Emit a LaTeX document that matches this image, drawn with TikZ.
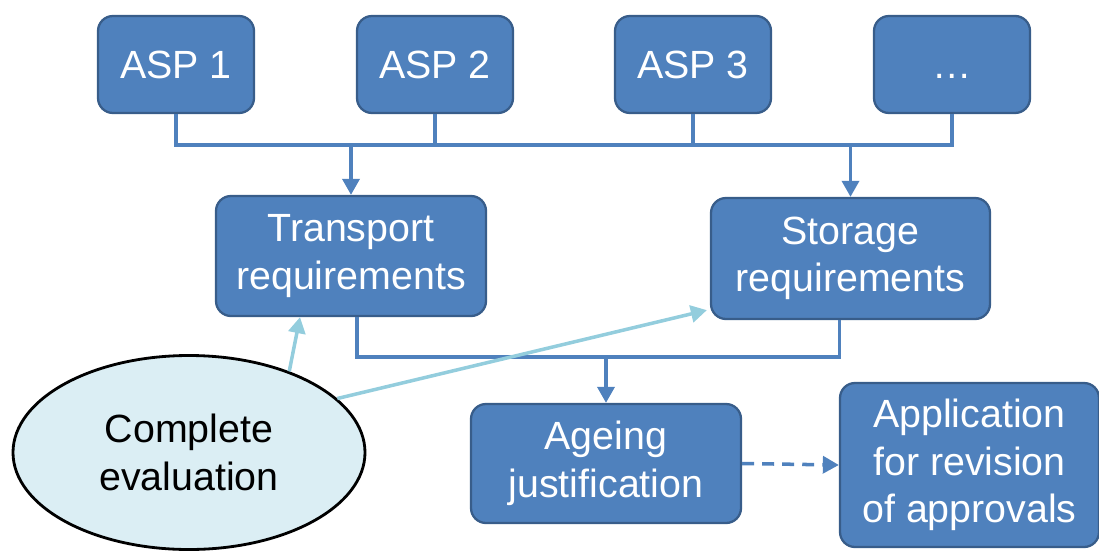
\documentclass[tikz,border=0pt]{standalone}
\usepackage{fontspec}
\setmainfont{Liberation Sans}
\usetikzlibrary{arrows.meta,shapes.geometric}

\definecolor{boxblue}{HTML}{4F81BD}
\definecolor{boxedge}{HTML}{385D8A}
\definecolor{evalfill}{HTML}{DBEEF4}
\definecolor{evalarrow}{HTML}{93CDDD}

\tikzset{
  stepbox/.style={draw=boxedge, line width=1.3pt, fill=boxblue, rounded corners=0.3cm,
                  text=white, align=center, inner sep=0pt,
                  font=\fontsize{22.4}{27}\selectfont},
  flow/.style={draw=boxblue, line width=2pt},
  flowarrow/.style={flow, -{Triangle[width=0.34cm,length=0.32cm]}},
  evalline/.style={draw=evalarrow, line width=2pt, -{Triangle[width=0.34cm,length=0.32cm]}}
}

\begin{document}
\begin{tikzpicture}
\useasboundingbox (0,0) rectangle (21.98,-11);

% source boxes
\node [stepbox, minimum width=3.12cm, minimum height=1.94cm] (asp1) at (3.52,-1.29) {ASP 1};
\node [stepbox, minimum width=3.12cm, minimum height=1.94cm] (asp2) at (8.70,-1.29) {ASP 2};
\node [stepbox, minimum width=3.12cm, minimum height=1.94cm] (asp3) at (13.86,-1.29) {ASP 3};
\node [stepbox, minimum width=3.12cm, minimum height=1.94cm] (asp4) at (19.04,-1.29) {\vphantom{ASP 1}…};

% requirements
\node [stepbox, minimum width=5.4cm, minimum height=2.4cm] (trans) at (7.02,-5.12) {Transport\\requirements};
\node [stepbox, minimum width=5.58cm, minimum height=2.42cm] (stor) at (17.01,-5.17) {Storage\\requirements};

% result boxes
\node [stepbox, minimum width=5.4cm, minimum height=2.38cm] (age) at (12.12,-9.27) {Ageing\\justification};
\node [stepbox, minimum width=5.18cm, minimum height=3.28cm] (appl) at (19.39,-9.3) {Application\\for revision\\of approvals};

% evaluation
\node [ellipse, draw=black, line width=1.6pt, fill=evalfill, minimum width=7.04cm, minimum height=3.88cm,
       align=center, inner sep=0pt, font=\fontsize{22.4}{27}\selectfont] (eval) at (3.78,-9.05) {Complete\\evaluation};

  % upper bus
\coordinate (bus) at (0,-2.9);
\draw [flow] (asp1.south) |- (bus -| asp4.south) -- (asp4.south);
\draw [flow] (asp2.south) -- (asp2.south |- bus);
\draw [flow] (asp3.south) -- (asp3.south |- bus);
\draw [flowarrow] (trans.north |- bus) -- (trans.north);
\draw [flowarrow] (stor.north |- bus) -- (stor.north);

  % lower bus
\coordinate (lowbus) at (0,-7.14);
\draw [flow] ([xshift=0.12cm]trans.south) |- ([xshift=-0.22cm]stor.south |- lowbus) -- ([xshift=-0.22cm]stor.south);
\draw [flowarrow] (age.north |- lowbus) -- (age.north);

  % dashed link
\draw [flowarrow, dash pattern=on 6.8pt off 4.6pt] (age.east) -- (appl.west);

  % evaluation links
\draw [evalline] (eval.39) -- ([xshift=-1.02cm]trans.south);
\draw [evalline] (eval.20) -- ([yshift=0.2cm, xshift=-0.06cm]stor.south west);

\end{tikzpicture}
\end{document}
